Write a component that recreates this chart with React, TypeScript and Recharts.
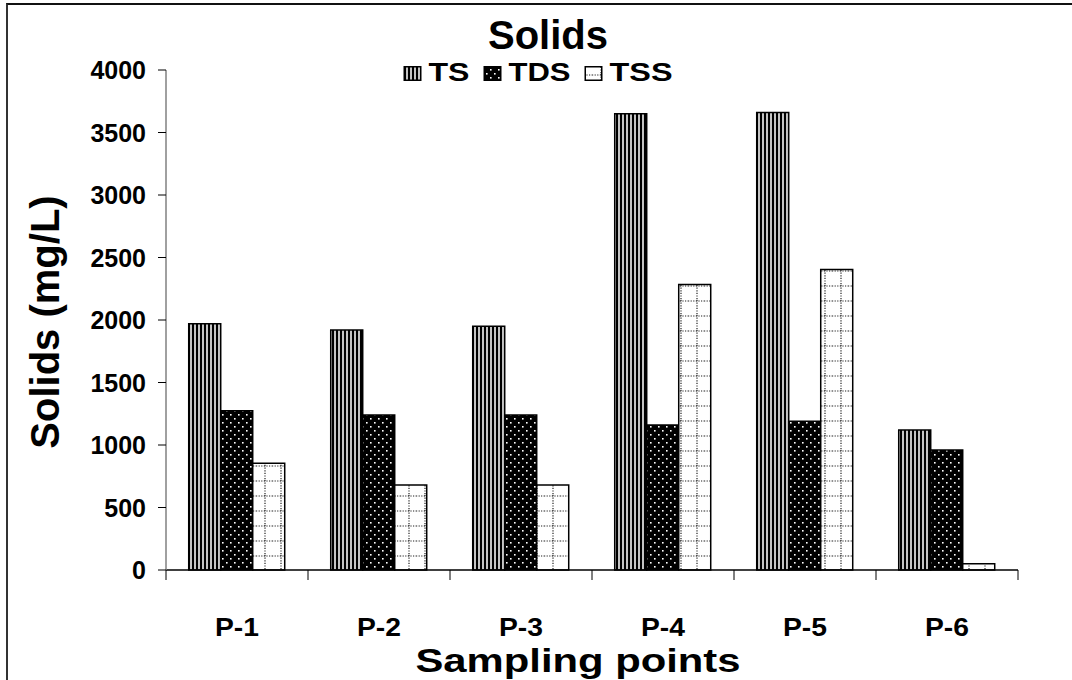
import React from 'react';
import { BarChart, Bar, XAxis, YAxis, Legend } from 'recharts';

const categories = ['P-1', 'P-2', 'P-3', 'P-4', 'P-5', 'P-6'];
const tsValues = [1970, 1920, 1950, 3650, 3660, 1120];
const tdsValues = [1275, 1240, 1240, 1160, 1190, 960];
const tssValues = [855, 680, 680, 2285, 2405, 50];
const yTicks = [0, 500, 1000, 1500, 2000, 2500, 3000, 3500, 4000];

const data = categories.map((c, i) => ({ name: c, TS: tsValues[i], TDS: tdsValues[i], TSS: tssValues[i] }));

const FONT = '"Liberation Sans", Arial, sans-serif';
const PLOT_LEFT = 166;
const PLOT_RIGHT = 1018;
const PLOT_BOTTOM = 570;
const BAND = (PLOT_RIGHT - PLOT_LEFT) / categories.length;

const PatternDefs = ({ prefix }: { prefix: string }) => (
  <defs>
    <pattern id={`${prefix}TS`} patternUnits="userSpaceOnUse" width="4" height="4">
      <rect width="4" height="4" fill="#c4c4c4" />
      <rect width="2" height="4" fill="#000" />
    </pattern>
    <pattern id={`${prefix}TDS`} patternUnits="userSpaceOnUse" width="8" height="8">
      <rect width="8" height="8" fill="#000" />
      <rect x="2" y="2" width="1.6" height="1.6" fill="#fff" />
      <rect x="6" y="6" width="1.6" height="1.6" fill="#fff" />
    </pattern>
    <pattern id={`${prefix}TSS`} patternUnits="userSpaceOnUse" width="16" height="15">
      <rect width="16" height="15" fill="#fff" />
      <line x1="0" y1="1" x2="16" y2="1" stroke="#222" strokeWidth="1.2" strokeDasharray="1.2 1.4" />
      <line x1="9" y1="0" x2="9" y2="15" stroke="#222" strokeWidth="1.2" strokeDasharray="1.2 1.4" />
    </pattern>
  </defs>
);

const series = [
  { key: 'TS', label: 'TS', textWidth: 41 },
  { key: 'TDS', label: 'TDS', textWidth: 62 },
  { key: 'TSS', label: 'TSS', textWidth: 63 },
];

const LegendContent = () => {
  const iconW = 18;
  const gapIconText = 7;
  const gapItems = 14;
  const total = series.reduce((a, s) => a + iconW + gapIconText + s.textWidth, 0) + gapItems * (series.length - 1);
  let cursor = 538 - total / 2;
  const items = series.map((s) => {
    const x0 = cursor;
    cursor += iconW + gapIconText + s.textWidth + gapItems;
    return (
      <g key={s.key}>
        <rect x={x0 + 0.75} y={7.75} width={iconW - 1.5} height={13.5} fill={`url(#lg${s.key})`} stroke="#000" strokeWidth={1.5} />
        <text x={x0 + iconW + gapIconText} y={22} textLength={s.textWidth} lengthAdjust="spacingAndGlyphs" fontFamily={FONT} fontWeight="bold" fontSize={25} fill="#000">
          {s.label}
        </text>
      </g>
    );
  });
  return (
    <svg width={1072} height={30} style={{ display: 'block' }}>
      <PatternDefs prefix="lg" />
      {items}
    </svg>
  );
};

const YTick = (props: any) => {
  const { x, y, payload } = props;
  return (
    <text x={x} y={y} textAnchor="end" dominantBaseline="central" fontFamily={FONT} fontWeight="bold" fontSize={25} fill="#000">
      {payload.value}
    </text>
  );
};

const XTick = (props: any) => {
  const { x, payload, index } = props;
  const left = x - BAND / 2;
  const right = x + BAND / 2;
  return (
    <g>
      <line x1={left} y1={PLOT_BOTTOM} x2={left} y2={PLOT_BOTTOM + 10} stroke="#000" strokeWidth={1} />
      {index === categories.length - 1 && (
        <line x1={right} y1={PLOT_BOTTOM} x2={right} y2={PLOT_BOTTOM + 10} stroke="#000" strokeWidth={1} />
      )}
      <text x={x} y={PLOT_BOTTOM + 66} textAnchor="middle" textLength={44} lengthAdjust="spacingAndGlyphs" fontFamily={FONT} fontWeight="bold" fontSize={25} fill="#000">
        {payload.value}
      </text>
    </g>
  );
};

export default function App() {
  return (
    <div style={{ position: 'absolute', left: 0, top: 0, width: 1072, height: 680, background: '#fff' }}>
      <div style={{ position: 'absolute', left: 6, top: 3, width: 1066, height: 677, borderLeft: '2px solid #333', borderTop: '2px solid #111', boxSizing: 'border-box' }} />
      <div style={{ position: 'absolute', left: 0, top: 13, width: 1096, textAlign: 'center', fontFamily: FONT, fontWeight: 'bold', fontSize: 40, lineHeight: '44px', color: '#000' }}>
        Solids
      </div>
      <div style={{ position: 'absolute', left: 0, top: 0 }}>
        <BarChart width={1072} height={680} data={data} margin={{ top: 70, right: 54, bottom: 0, left: 0 }} barCategoryGap="16%" barGap={0}>
          <PatternDefs prefix="p" />
          <XAxis
            dataKey="name"
            height={110}
            tickSize={0}
            tickMargin={0}
            tickLine={false}
            axisLine={{ stroke: '#000', strokeWidth: 1.5 }}
            tick={<XTick />}
            interval={0}
            label={{
              content: () => (
                <text x={578} y={672} textAnchor="middle" textLength={325} lengthAdjust="spacingAndGlyphs" fontFamily={FONT} fontWeight="bold" fontSize={33} fill="#000">
                  Sampling points
                </text>
              ),
            }}
          />
          <YAxis
            domain={[0, 4000]}
            ticks={yTicks}
            width={166}
            tickSize={8}
            tickMargin={12}
            tickLine={{ stroke: '#000', strokeWidth: 1 }}
            axisLine={{ stroke: '#808080', strokeWidth: 1.5 }}
            tick={<YTick />}
            label={{
              content: () => (
                <text x={45} y={322} transform="rotate(-90 45 322)" textAnchor="middle" dominantBaseline="central" fontFamily={FONT} fontWeight="bold" fontSize={40} fill="#000">
                  Solids (mg/L)
                </text>
              ),
            }}
          />
          <Legend
            verticalAlign="top"
            content={<LegendContent />}
            wrapperStyle={{ position: 'absolute', top: 59, left: 0, width: 1072, height: 0, overflow: 'visible' }}
          />
          <Bar dataKey="TS" fill="url(#pTS)" stroke="#000" strokeWidth={1.5} isAnimationActive={false} />
          <Bar dataKey="TDS" fill="url(#pTDS)" stroke="#000" strokeWidth={1.5} isAnimationActive={false} />
          <Bar dataKey="TSS" fill="url(#pTSS)" stroke="#000" strokeWidth={1.5} isAnimationActive={false} />
        </BarChart>
      </div>
    </div>
  );
}
